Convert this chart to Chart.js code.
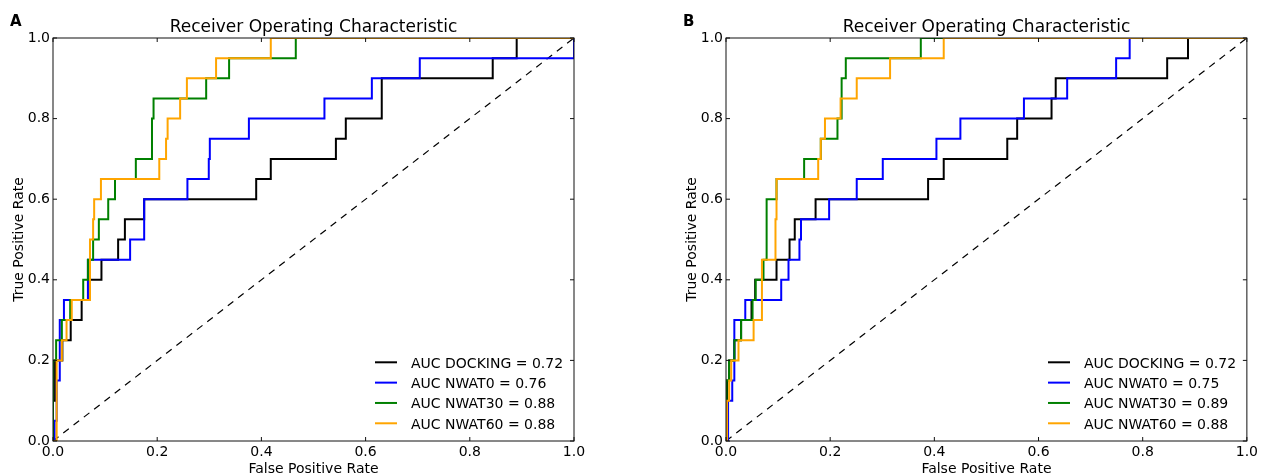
<!DOCTYPE html>
<html>
<head>
<meta charset="utf-8">
<title>ROC curves</title>
<script src="https://cdn.jsdelivr.net/npm/chart.js@4.4.1/dist/chart.umd.min.js"></script>
<style>
  body { margin: 0; background: #fff; }
  #wrap { position: relative; width: 1261px; height: 476px; }
  #chartA { position: absolute; left: 0; top: 0; }
  #chartB { position: absolute; left: 630px; top: 0; }
</style>
</head>
<body>
<div id="wrap">
  <canvas id="chartA" width="630" height="476"></canvas>
  <canvas id="chartB" width="631" height="476"></canvas>
</div>
<script>
let chartTitle = "Receiver Operating Characteristic";
let xAxisLabel = "False Positive Rate";
let yAxisLabel = "True Positive Rate";
let tickValues = [0, 0.2, 0.4, 0.6, 0.8, 1.0];
let methodNames = ["DOCKING", "NWAT0", "NWAT30", "NWAT60"];
let aucA = [0.72, 0.76, 0.88, 0.88];
let aucB = [0.72, 0.75, 0.89, 0.88];
let diagX = [0, 1];
let diagY = [0, 1];

// panel A, roc corner points
let fprDockingA = [0, 0, 0.004, 0.018, 0.034, 0.055, 0.070, 0.093, 0.125, 0.138, 0.175, 0.390, 0.418, 0.543, 0.562, 0.631, 0.844, 0.890, 1];
let tprDockingA = [0, 0.10, 0.20, 0.25, 0.30, 0.35, 0.40, 0.45, 0.50, 0.55, 0.60, 0.65, 0.70, 0.75, 0.80, 0.90, 0.95, 1.0, 1.0];
let fprNwat0A = [0, 0.003, 0.007, 0.013, 0.021, 0.067, 0.148, 0.175, 0.258, 0.299, 0.301, 0.376, 0.521, 0.612, 0.704, 1];
let tprNwat0A = [0, 0.05, 0.15, 0.30, 0.35, 0.45, 0.50, 0.60, 0.65, 0.70, 0.75, 0.80, 0.85, 0.90, 0.95, 1.0];
let fprNwat30A = [0, 0, 0.006, 0.017, 0.033, 0.058, 0.067, 0.077, 0.088, 0.106, 0.119, 0.159, 0.190, 0.193, 0.294, 0.338, 0.466, 1];
let tprNwat30A = [0, 0.20, 0.25, 0.30, 0.35, 0.40, 0.45, 0.50, 0.55, 0.60, 0.65, 0.70, 0.80, 0.85, 0.90, 0.95, 1.0, 1.0];
let fprNwat60A = [0, 0.007, 0.017, 0.026, 0.036, 0.071, 0.077, 0.079, 0.092, 0.204, 0.217, 0.220, 0.244, 0.257, 0.313, 0.418, 1];
let tprNwat60A = [0, 0.20, 0.25, 0.30, 0.35, 0.50, 0.55, 0.60, 0.65, 0.70, 0.75, 0.80, 0.85, 0.90, 0.95, 1.0, 1.0];

// panel B
let fprDockingB = [0, 0.002, 0.006, 0.016, 0.029, 0.049, 0.056, 0.097, 0.122, 0.132, 0.172, 0.388, 0.418, 0.540, 0.559, 0.625, 0.633, 0.847, 0.887, 1];
let tprDockingB = [0, 0.15, 0.20, 0.25, 0.30, 0.35, 0.40, 0.45, 0.50, 0.55, 0.60, 0.65, 0.70, 0.75, 0.80, 0.85, 0.90, 0.95, 1.0, 1.0];
let fprNwat0B = [0, 0.004, 0.012, 0.016, 0.037, 0.106, 0.120, 0.141, 0.144, 0.198, 0.251, 0.301, 0.404, 0.450, 0.572, 0.655, 0.749, 0.775, 1];
let tprNwat0B = [0, 0.10, 0.15, 0.30, 0.35, 0.40, 0.45, 0.50, 0.55, 0.60, 0.65, 0.70, 0.75, 0.80, 0.85, 0.90, 0.95, 1.0, 1.0];
let fprNwat30B = [0, 0.001, 0.006, 0.016, 0.029, 0.051, 0.057, 0.072, 0.078, 0.097, 0.150, 0.182, 0.214, 0.222, 0.230, 0.374, 1];
let tprNwat30B = [0, 0.15, 0.20, 0.25, 0.30, 0.35, 0.40, 0.45, 0.60, 0.65, 0.70, 0.75, 0.80, 0.90, 0.95, 1.0, 1.0];
let fprNwat60B = [0, 0.002, 0.006, 0.010, 0.024, 0.053, 0.069, 0.095, 0.097, 0.177, 0.182, 0.190, 0.220, 0.251, 0.315, 0.418, 1];
let tprNwat60B = [0, 0.10, 0.15, 0.20, 0.25, 0.30, 0.45, 0.55, 0.65, 0.70, 0.75, 0.80, 0.85, 0.90, 0.95, 1.0, 1.0];

let lineColors = ["#000000", "#0000ff", "#008000", "#ffa500"];

Chart.defaults.font.family = "'DejaVu Sans', sans-serif";
Chart.defaults.color = "#000";

// roc staircase: move right first, then up at each new fpr
function makeSteps(fpr, tpr) {
  let points = [{ x: fpr[0], y: tpr[0] }];
  for (let i = 1; i < fpr.length; i++) {
    points.push({ x: fpr[i], y: tpr[i - 1] });
    points.push({ x: fpr[i], y: tpr[i] });
  }
  return points;
}

function makeLegendLabels(aucs) {
  return methodNames.map((name, i) => `AUC ${name} = ${aucs[i].toFixed(2)}`);
}

// frame with inward ticks, panel letter and legend (matplotlib look)
let frameAndLegend = {
  id: "frameAndLegend",
  afterDatasetsDraw(chart, args, opts) {
    let ctx = chart.ctx;
    let area = chart.chartArea;
    let xScale = chart.scales.x;
    let yScale = chart.scales.y;
    ctx.save();
    ctx.strokeStyle = "#111";
    ctx.lineWidth = 1;
    ctx.strokeRect(area.left, area.top, area.right - area.left, area.bottom - area.top);
    ctx.beginPath();
    tickValues.forEach((v) => {
      let px = xScale.getPixelForValue(v);
      ctx.moveTo(px, area.bottom);
      ctx.lineTo(px, area.bottom - 4);
      ctx.moveTo(px, area.top);
      ctx.lineTo(px, area.top + 4);
      let py = yScale.getPixelForValue(v);
      ctx.moveTo(area.left, py);
      ctx.lineTo(area.left + 4, py);
      ctx.moveTo(area.right, py);
      ctx.lineTo(area.right - 4, py);
    });
    ctx.stroke();

    ctx.fillStyle = "#000";
    ctx.font = "bold 15px 'DejaVu Sans'";
    ctx.textBaseline = "alphabetic";
    ctx.textAlign = "left";
    ctx.fillText(opts.panel, area.left - 43, 25.5);

    ctx.font = "14px 'DejaVu Sans'";
    opts.labels.forEach((label, i) => {
      let rowY = area.bottom - 78.7 + i * 20.33;
      ctx.strokeStyle = lineColors[i];
      ctx.lineWidth = 2;
      ctx.beginPath();
      ctx.moveTo(area.left + 322, rowY);
      ctx.lineTo(area.left + 344, rowY);
      ctx.stroke();
      ctx.fillText(label, area.left + 358, rowY + 5.3);
    });
    ctx.restore();
  },
};

function getChart(canvasId, panel, series, aucs, padLeft, padRight) {
  let ctx = document.getElementById(canvasId).getContext("2d");
  let datasets = [
    {
      data: diagX.map((x, i) => ({ x: x, y: diagY[i] })),
      borderColor: "#000",
      borderWidth: 1.2,
      borderDash: [7, 6],
      order: 5,
    },
  ];
  series.forEach((s, i) => {
    datasets.push({
      data: makeSteps(s[0], s[1]),
      borderColor: lineColors[i],
      borderWidth: 2,
      order: 4 - i,
    });
  });
  datasets.forEach((d) => {
    d.showLine = true;
    d.pointRadius = 0;
    d.fill = false;
  });

  return new Chart(ctx, {
    type: "scatter",
    data: { datasets: datasets },
    plugins: [frameAndLegend],
    options: {
      responsive: false,
      animation: false,
      devicePixelRatio: 1,
      layout: { padding: { left: padLeft, right: padRight, top: 0, bottom: 0 } },
      plugins: {
        legend: { display: false },
        tooltip: { enabled: false },
        title: {
          display: true,
          text: chartTitle,
          fullSize: false,
          color: "#000",
          font: { size: 17, weight: "normal", lineHeight: 1.2 },
          padding: { top: 17, bottom: 0.6 },
        },
        frameAndLegend: { panel: panel, labels: makeLegendLabels(aucs) },
      },
      scales: {
        x: {
          type: "linear",
          min: 0,
          max: 1,
          afterBuildTicks: (scale) => {
            scale.ticks = tickValues.map((v) => ({ value: v }));
          },
          afterFit: (scale) => {
            scale.height = 35;
          },
          grid: { display: false, drawTicks: false },
          border: { display: false },
          ticks: {
            padding: 3,
            maxRotation: 0,
            autoSkip: false,
            font: { size: 14 },
            callback: (v) => Number(v).toFixed(1),
          },
          title: {
            display: true,
            text: xAxisLabel,
            font: { size: 14, lineHeight: 1 },
            padding: { top: 0, bottom: 0 },
          },
        },
        y: {
          type: "linear",
          min: 0,
          max: 1,
          afterBuildTicks: (scale) => {
            scale.ticks = tickValues.map((v) => ({ value: v }));
          },
          afterFit: (scale) => {
            scale.width = 53;
          },
          grid: { display: false, drawTicks: false },
          border: { display: false },
          ticks: {
            padding: 3,
            autoSkip: false,
            font: { size: 14 },
            callback: (v) => Number(v).toFixed(1),
          },
          title: {
            display: true,
            text: yAxisLabel,
            font: { size: 14, lineHeight: 1 },
            padding: { top: 12, bottom: 0 },
          },
        },
      },
    },
  });
}

getChart("chartA", "A", [
  [fprDockingA, tprDockingA],
  [fprNwat0A, tprNwat0A],
  [fprNwat30A, tprNwat30A],
  [fprNwat60A, tprNwat60A],
], aucA, 0, 56);

getChart("chartB", "B", [
  [fprDockingB, tprDockingB],
  [fprNwat0B, tprNwat0B],
  [fprNwat30B, tprNwat30B],
  [fprNwat60B, tprNwat60B],
], aucB, 43, 14);
</script>
</body>
</html>
